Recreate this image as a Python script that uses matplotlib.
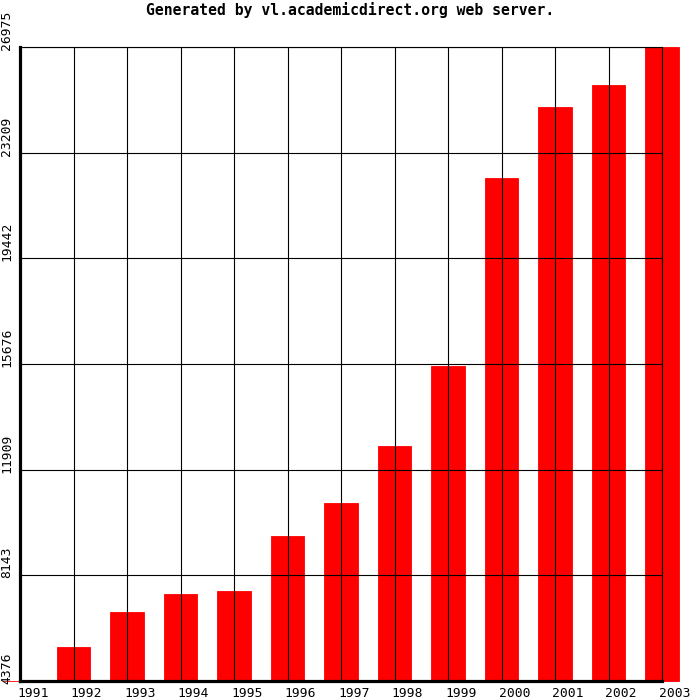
import matplotlib
matplotlib.use('Agg')

import matplotlib.pyplot as plt
from matplotlib.transforms import ScaledTranslation

# data
years = ['1991', '1992', '1993', '1994', '1995', '1996', '1997',
         '1998', '1999', '2000', '2001', '2002', '2003']
values = [4376, 5588, 6835, 7477, 7584, 9544, 10720,
          12751, 15603, 22303, 24833, 25617, 26975]
ytick_values = [4376, 8143, 11909, 15676, 19442, 23209, 26975]
ytick_labels = ['4376', '8143', '11909', '15676', '19442', '23209', '26975']

y_min = min(values)
y_max = max(values)

fig = plt.figure(figsize=(7, 7), dpi=100)
ax = fig.add_axes([20 / 700, 19 / 700, 642 / 700, 634 / 700])

pos = list(range(len(years)))
heights = [v - y_min for v in values]
ax.bar(pos, heights, bottom=y_min, width=0.62, color='#ff0000',
       edgecolor='#ff0000', linewidth=0.6, clip_on=False, zorder=1)

ax.set_xlim(0, len(years) - 1)
ax.set_ylim(y_min, y_max)

# grid drawn over the bars
ax.set_axisbelow(False)
ax.grid(True, color='black', linewidth=0.8)

for side in ('top', 'right'):
    ax.spines[side].set_linewidth(0.8)
for side in ('left', 'bottom'):
    ax.spines[side].set_linewidth(2.3)
    ax.spines[side].set_zorder(5)

mono = 'DejaVu Sans Mono'
ax.set_xticks(pos)
ax.set_xticklabels(years, ha='left', fontsize=9.4, family=mono)
ax.set_yticks(ytick_values)
ax.set_yticklabels(ytick_labels, rotation=90, va='bottom', fontsize=9.4,
                   family=mono)
ax.tick_params(axis='both', length=0)
ax.tick_params(axis='x', pad=4.5)
ax.tick_params(axis='y', pad=5)

for lab in ax.get_xticklabels():
    lab.set_transform(lab.get_transform() +
                      ScaledTranslation(-3 / 100, 0, fig.dpi_scale_trans))
for lab in ax.get_yticklabels():
    lab.set_transform(lab.get_transform() +
                      ScaledTranslation(0, -3 / 100, fig.dpi_scale_trans))

fig.text(0.5, 1 - 10 / 700, 'Generated by vl.academicdirect.org web server.',
         ha='center', va='center', fontsize=10.6, family=mono,
         fontweight='bold')

fig.savefig('out.png', dpi=100)
plt.close(fig)
